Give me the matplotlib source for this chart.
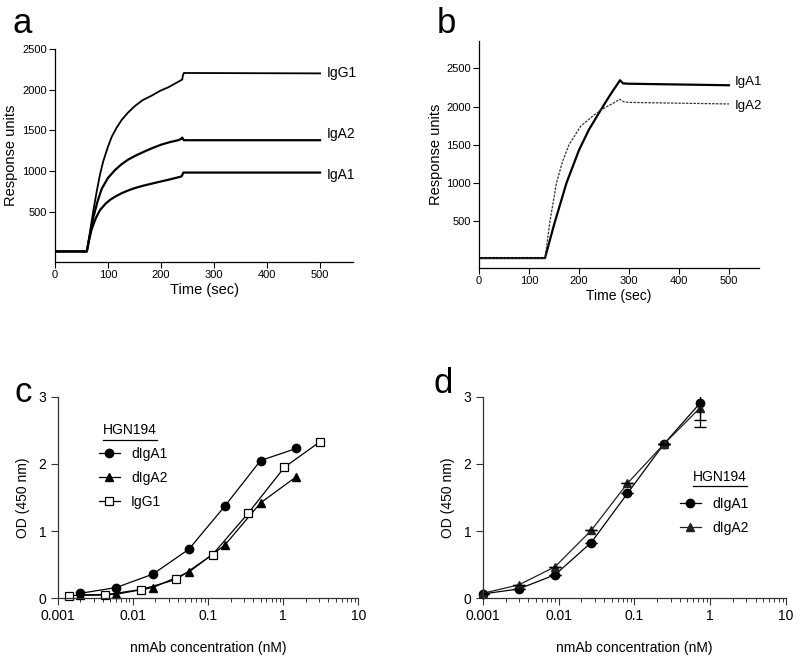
import numpy as np
import matplotlib
matplotlib.use("Agg")
import matplotlib.pyplot as plt
from matplotlib.lines import Line2D
from matplotlib.ticker import LogLocator, NullFormatter, FuncFormatter

plt.rcParams['font.family'] = ['Liberation Sans', 'DejaVu Sans']

# ---- panel a: SPR sensorgrams ----
t_a_igg1 = [0, 60, 66, 72, 79, 85, 91, 100, 107, 116, 126, 138, 151, 165, 182, 198, 214, 236, 240, 241, 243, 500]
v_a_igg1 = [10, 10, 250, 500, 760, 960, 1120, 1300, 1420, 1530, 1630, 1720, 1800, 1870, 1925, 1985, 2030, 2110, 2125, 2170, 2205, 2200]
t_a_iga2 = [0, 60, 66, 72, 80, 88, 100, 113, 125, 138, 154, 170, 185, 201, 217, 233, 238, 240, 243, 500]
v_a_iga2 = [10, 10, 220, 420, 620, 780, 915, 1010, 1080, 1140, 1195, 1243, 1285, 1325, 1355, 1379, 1395, 1410, 1378, 1378]
t_a_iga1 = [0, 60, 64, 69, 77, 85, 95, 104, 115, 126, 138, 151, 166, 182, 198, 214, 235, 239, 240, 242, 500]
v_a_iga1 = [10, 10, 140, 280, 420, 520, 595, 645, 690, 727, 760, 790, 818, 843, 868, 892, 926, 935, 950, 980, 980]

# ---- panel b ----
t_b_iga1 = [0, 132, 150, 175, 200, 220, 243, 262, 282, 288, 300, 400, 500]
v_b_iga1 = [15, 15, 450, 1000, 1430, 1700, 1950, 2150, 2346, 2305, 2300, 2290, 2280]
t_b_iga2 = [0, 132, 142, 155, 167, 180, 203, 230, 250, 270, 281, 290, 300, 400, 500]
v_b_iga2 = [15, 15, 500, 1000, 1280, 1500, 1740, 1890, 1980, 2050, 2097, 2062, 2055, 2045, 2035]

# ---- panel c: ELISA ----
conc_c_iga = [0.002, 0.006, 0.0185, 0.0556, 0.167, 0.5, 1.5]
od_c_diga1 = [0.074, 0.16, 0.36, 0.73, 1.37, 2.05, 2.23]
od_c_diga2 = [0.05, 0.06, 0.16, 0.39, 0.79, 1.42, 1.81]
conc_c_igg1 = [0.0014, 0.0042, 0.0127, 0.038, 0.115, 0.345, 1.04, 3.1]
od_c_igg1 = [0.04, 0.05, 0.13, 0.28, 0.65, 1.27, 1.95, 2.33]

# ---- panel d ----
conc_d = [0.001, 0.003, 0.009, 0.027, 0.081, 0.243, 0.73]
od_d_diga1 = [0.064, 0.14, 0.35, 0.83, 1.56, 2.29, 2.90]
od_d_diga2 = [0.074, 0.20, 0.47, 1.01, 1.71, 2.29, 2.83]
err_d_diga1 = [0, 0, 0, 0, 0, 0, 0.24]
err_d_diga2 = [0, 0, 0, 0, 0, 0, 0.28]

fig = plt.figure(figsize=(8, 6.62), dpi=100)
W, H = 800, 662


def box(l, t, r, b):
    return [l / W, 1 - b / H, (r - l) / W, (b - t) / H]


def style(ax, ticksize):
    for s in ['top', 'right']:
        ax.spines[s].set_visible(False)
    for s in ['left', 'bottom']:
        ax.spines[s].set_linewidth(0.9)
    ax.tick_params(direction='out', length=4, width=0.8, labelsize=ticksize, pad=2)


# panel a
ax = fig.add_axes(box(55, 49, 353, 262))
style(ax, 8)
ax.plot(t_a_igg1, v_a_igg1, color='black', lw=1.3)
ax.plot(t_a_iga2, v_a_iga2, color='black', lw=1.6)
ax.plot(t_a_iga1, v_a_iga1, color='black', lw=1.6)
ax.set_xlim(0, 562)
ax.set_ylim(-120, 2500)
ax.set_xticks([0, 100, 200, 300, 400, 500])
ax.set_yticks([500, 1000, 1500, 2000, 2500])
ax.set_xlabel('Time (sec)', fontsize=10.5, labelpad=2)
ax.set_ylabel('Response units', fontsize=10.5, labelpad=3)
ax.text(513, 2200, 'IgG1', fontsize=10, va='center')
ax.text(513, 1460, 'IgA2', fontsize=10, va='center')
ax.text(513, 950, 'IgA1', fontsize=10, va='center')
fig.text(22 / W, 1 - 33 / H, 'a', fontsize=25, ha='center', va='baseline')

# panel b
ax = fig.add_axes(box(479, 41, 759, 268))
style(ax, 8)
ax.plot(t_b_iga1, v_b_iga1, color='black', lw=1.6)
ax.plot(t_b_iga2, v_b_iga2, color='#333333', lw=0.9, ls=(0, (2, 1)))
ax.set_xlim(0, 560)
ax.set_ylim(-115, 2860)
ax.set_xticks([0, 100, 200, 300, 400, 500])
ax.set_yticks([500, 1000, 1500, 2000, 2500])
ax.set_xlabel('Time (sec)', fontsize=10, labelpad=2)
ax.set_ylabel('Response units', fontsize=10.5, labelpad=2)
ax.text(512, 2320, 'IgA1', fontsize=9.5, va='center')
ax.text(512, 2010, 'IgA2', fontsize=9.5, va='center')
fig.text(446 / W, 1 - 33 / H, 'b', fontsize=25, ha='center', va='baseline')


def style_log(ax):
    for s in ['top', 'right']:
        ax.spines[s].set_visible(False)
    for s in ['left', 'bottom']:
        ax.spines[s].set_linewidth(0.9)
        ax.spines[s].set_color('#333333')
    ax.set_xscale('log')
    ax.set_xlim(0.001, 10)
    ax.set_ylim(0, 3)
    ax.set_yticks([0, 1, 2, 3])
    ax.xaxis.set_major_locator(LogLocator(base=10, numticks=10))
    ax.xaxis.set_minor_locator(LogLocator(base=10, subs=np.arange(2, 10), numticks=10))
    ax.xaxis.set_minor_formatter(NullFormatter())
    ax.xaxis.set_major_formatter(FuncFormatter(lambda v, p: f'{v:g}'))
    ax.tick_params(which='major', direction='out', length=5, width=0.8, labelsize=10, pad=3, color='#333333')
    ax.tick_params(which='minor', direction='out', length=3, width=0.7, color='#333333')
    ax.set_xlabel('nmAb concentration (nM)', fontsize=10, labelpad=13)
    ax.set_ylabel('OD (450 nm)', fontsize=10, labelpad=6)


def legend_block(ax, handles, x_left, y_mid, title_x, title_y):
    # legend entries, then a separate underlined title (pixel positions)
    ax.legend(handles=handles, frameon=False, fontsize=10, handlelength=1.5,
              handletextpad=0.8, labelspacing=0.72, loc='center left',
              bbox_to_anchor=(x_left / W, 1 - y_mid / H), bbox_transform=fig.transFigure,
              borderaxespad=0)
    t = fig.text(title_x / W, 1 - title_y / H, 'HGN194', fontsize=10, ha='center', va='center')
    fig.canvas.draw()
    bb = t.get_window_extent()
    y = H - (title_y + 9.5)
    fig.add_artist(Line2D([bb.x0, bb.x1], [y, y], color='black', lw=0.9, transform=None))


# panel c
ax = fig.add_axes(box(57.7, 396.7, 358.3, 598.3))
style_log(ax)
kw = dict(color='black', lw=0.9, clip_on=False, ms=6)
h1, = ax.plot(conc_c_iga, od_c_diga1, marker='o', label='dIgA1', **kw)
h2, = ax.plot(conc_c_iga, od_c_diga2, marker='^', label='dIgA2', **kw)
h3, = ax.plot(conc_c_igg1, od_c_igg1, marker='s', mfc='white', mew=0.9, label='IgG1', **kw)
legend_block(ax, [h1, h2, h3], 93.5, 477.7, 130, 430)
fig.text(23 / W, 1 - 402 / H, 'c', fontsize=25, ha='center', va='baseline')

# panel d
ax = fig.add_axes(box(482.7, 396.7, 786, 598.3))
style_log(ax)
k1, = ax.plot(conc_d, od_d_diga1, marker='o', label='dIgA1', **kw)
k2, = ax.plot(conc_d, od_d_diga2, marker='^', label='dIgA2', color='#222222', lw=0.9, clip_on=False, ms=6)
ax.errorbar(conc_d, od_d_diga1, yerr=err_d_diga1, fmt='none', ecolor='black', elinewidth=0.9, capsize=4)
ax.errorbar(conc_d, od_d_diga2, yerr=err_d_diga2, fmt='none', ecolor='black', elinewidth=0.9, capsize=4)
legend_block(ax, [k1, k2], 674.5, 516.2, 720, 476.7)
fig.text(443 / W, 1 - 393 / H, 'd', fontsize=25, ha='center', va='baseline')

fig.savefig('out.png', dpi=100)
